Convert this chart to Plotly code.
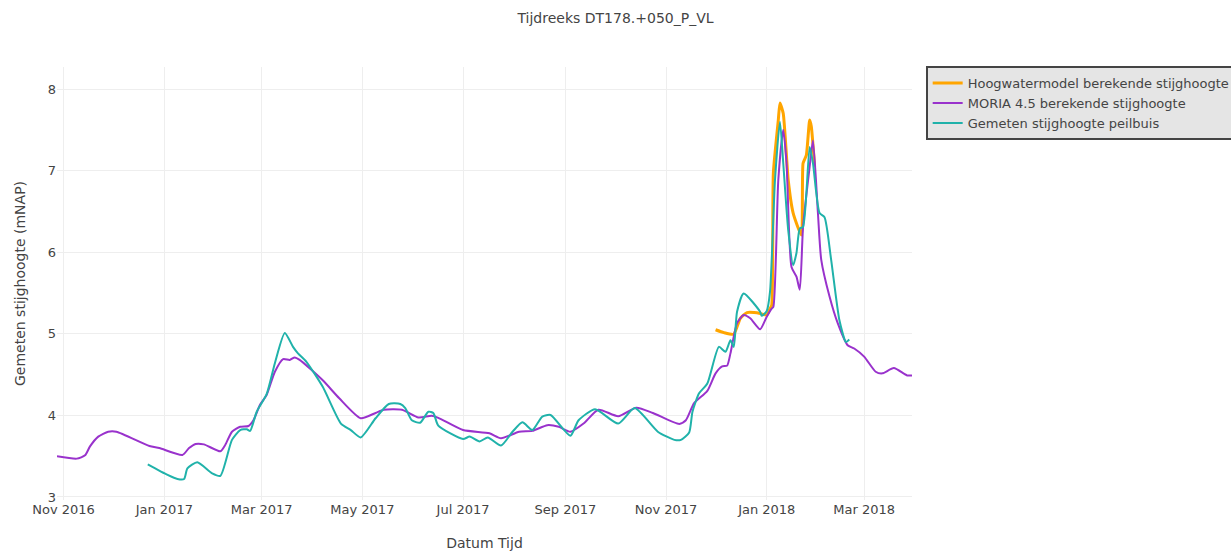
import plotly.graph_objects as go

# MORIA 4.5 model
moria_dates = [
    "2016-10-28", "2016-11-09", "2016-11-14", "2016-11-17", "2016-11-22", "2016-11-28",
    "2016-12-03", "2016-12-23", "2016-12-29", "2017-01-12", "2017-01-16", "2017-01-20",
    "2017-01-25", "2017-02-04", "2017-02-07", "2017-02-11", "2017-02-16", "2017-02-21",
    "2017-02-24", "2017-02-28", "2017-03-04", "2017-03-09", "2017-03-14", "2017-03-18",
    "2017-03-21", "2017-03-24", "2017-04-07", "2017-04-17", "2017-04-30", "2017-05-09",
    "2017-05-14", "2017-05-25", "2017-06-04", "2017-06-12", "2017-06-16", "2017-07-01",
    "2017-07-17", "2017-07-24", "2017-08-04", "2017-08-12", "2017-08-21", "2017-08-28",
    "2017-09-04", "2017-09-12", "2017-09-21", "2017-10-03", "2017-10-14", "2017-10-24",
    "2017-11-09", "2017-11-13", "2017-11-18", "2017-11-26", "2017-12-01", "2017-12-05",
    "2017-12-08", "2017-12-10", "2017-12-14", "2017-12-18", "2017-12-22", "2017-12-28",
    "2018-01-01", "2018-01-04", "2018-01-05", "2018-01-08", "2018-01-11", "2018-01-13",
    "2018-01-16", "2018-01-19", "2018-01-21", "2018-01-23", "2018-01-27", "2018-01-29",
    "2018-02-01", "2018-02-03", "2018-02-08", "2018-02-13", "2018-02-19", "2018-02-23",
    "2018-03-01", "2018-03-08", "2018-03-12", "2018-03-19", "2018-03-27", "2018-03-30",
]
moria_values = [
    3.50, 3.47, 3.51, 3.62, 3.74, 3.80,
    3.80, 3.625, 3.60, 3.515, 3.60, 3.65,
    3.645, 3.56, 3.64, 3.80, 3.86, 3.87,
    3.94, 4.13, 4.25, 4.535, 4.69, 4.68,
    4.71, 4.68, 4.43, 4.21, 3.965, 4.03,
    4.07, 4.07, 3.975, 3.995, 3.97, 3.82,
    3.78, 3.72, 3.80, 3.81, 3.88, 3.86,
    3.80, 3.90, 4.07, 3.99, 4.095, 4.03,
    3.895, 3.94, 4.15, 4.30, 4.515, 4.60,
    4.61, 4.76, 5.13, 5.23, 5.19, 5.055,
    5.21, 5.31, 5.33, 6.885, 7.50, 7.09,
    5.82, 5.70, 5.54, 6.31, 7.05, 7.37,
    6.48, 5.91, 5.46, 5.13, 4.86, 4.82,
    4.72, 4.535, 4.515, 4.58, 4.49, 4.49,
]

# Measured head in the standpipe
peilbuis_dates = [
    "2016-12-22", "2017-01-03", "2017-01-09", "2017-01-13", "2017-01-15", "2017-01-21",
    "2017-01-30", "2017-02-04", "2017-02-11", "2017-02-16", "2017-02-20", "2017-02-22",
    "2017-02-26", "2017-03-04", "2017-03-09", "2017-03-15", "2017-03-20", "2017-03-23",
    "2017-03-28", "2017-04-07", "2017-04-18", "2017-04-24", "2017-04-30", "2017-05-09",
    "2017-05-17", "2017-05-24", "2017-05-27", "2017-05-31", "2017-06-05", "2017-06-10",
    "2017-06-13", "2017-06-16", "2017-07-01", "2017-07-05", "2017-07-11", "2017-07-16",
    "2017-07-24", "2017-07-31", "2017-08-06", "2017-08-12", "2017-08-18", "2017-08-23",
    "2017-09-04", "2017-09-09", "2017-09-19", "2017-10-03", "2017-10-13", "2017-10-27",
    "2017-11-06", "2017-11-10", "2017-11-15", "2017-11-17", "2017-11-21", "2017-11-26",
    "2017-12-03", "2017-12-07", "2017-12-10", "2017-12-12", "2017-12-14", "2017-12-18",
    "2017-12-28", "2017-12-29", "2018-01-01", "2018-01-03", "2018-01-06", "2018-01-09",
    "2018-01-11", "2018-01-14", "2018-01-17", "2018-01-19", "2018-01-21", "2018-01-23",
    "2018-01-27", "2018-01-29", "2018-02-02", "2018-02-05", "2018-02-09", "2018-02-14",
    "2018-02-18", "2018-02-20",
]
peilbuis_values = [
    3.40, 3.27, 3.22, 3.22, 3.35, 3.425,
    3.29, 3.26, 3.70, 3.82, 3.83, 3.81,
    4.045, 4.26, 4.64, 5.01, 4.84, 4.76,
    4.66, 4.35, 3.90, 3.82, 3.73, 3.965,
    4.14, 4.14, 4.09, 3.94, 3.91, 4.045,
    4.03, 3.875, 3.71, 3.74, 3.68, 3.73,
    3.63, 3.80, 3.915, 3.82, 3.985, 4.005,
    3.75, 3.94, 4.075, 3.90, 4.09, 3.80,
    3.70, 3.70, 3.79, 4.045, 4.27, 4.39,
    4.84, 4.78, 4.92, 4.84, 5.27, 5.495,
    5.27, 5.22, 5.28, 5.52, 6.885, 7.60,
    7.09, 6.27, 5.84, 5.99, 6.29, 6.31,
    7.29, 7.09, 6.48, 6.43, 5.91, 5.17,
    4.90, 4.93,
]

# High-water model
hwm_dates = [
    "2017-12-01", "2017-12-06", "2017-12-12", "2017-12-16", "2017-12-20", "2017-12-28",
    "2018-01-01", "2018-01-03", "2018-01-04", "2018-01-05", "2018-01-08", "2018-01-09",
    "2018-01-11", "2018-01-14", "2018-01-17", "2018-01-22", "2018-01-23", "2018-01-25",
    "2018-01-27", "2018-01-28", "2018-01-30",
]
hwm_values = [
    5.05, 5.015, 4.995, 5.19, 5.26, 5.25,
    5.23, 5.31, 5.35, 6.97, 7.62, 7.83,
    7.70, 6.885, 6.48, 6.21, 7.09, 7.19,
    7.62, 7.54, 7.05,
]

x_range = ["2016-10-28", "2018-03-30"]
y_range = [2.963, 8.27]

fig = go.Figure()
fig.add_trace(go.Scatter(
    x=hwm_dates, y=hwm_values, mode="lines",
    name="Hoogwatermodel berekende stijghoogte",
    line=dict(color="orange", width=3, shape="spline", smoothing=0.5),
))
fig.add_trace(go.Scatter(
    x=moria_dates, y=moria_values, mode="lines",
    name="MORIA 4.5 berekende stijghoogte",
    line=dict(color="darkorchid", width=2, shape="spline", smoothing=0.6),
))
fig.add_trace(go.Scatter(
    x=peilbuis_dates, y=peilbuis_values, mode="lines",
    name="Gemeten stijghoogte peilbuis",
    line=dict(color="lightseagreen", width=2, shape="spline", smoothing=0.6),
))

fig.update_layout(
    width=1231, height=554,
    template="plotly_white",
    font=dict(family="DejaVu Sans, Verdana, sans-serif", size=13, color="#444"),
    title=dict(text="Tijdreeks DT178.+050_P_VL", x=0.5, xref="container",
               y=1 - 18 / 554, yref="container", yanchor="middle",
               font=dict(size=14)),
    margin=dict(l=57, r=319, t=67, b=54, autoexpand=False),
    legend=dict(bgcolor="#E5E5E5", bordercolor="#444", borderwidth=2,
                x=1.016, y=1.002, font=dict(size=13)),
    xaxis=dict(title=dict(text="Datum Tijd", font=dict(size=14), standoff=22),
               range=x_range,
               tick0="2016-11-01", dtick="M2", tickformat="%b %Y",
               gridcolor="#eeeeee", zeroline=False, showline=False),
    yaxis=dict(title=dict(text="Gemeten stijghoogte (mNAP)", font=dict(size=14),
                          standoff=18),
               range=y_range,
               dtick=1, gridcolor="#eeeeee", zeroline=False, showline=False),
)

fig.write_html("out.html")
